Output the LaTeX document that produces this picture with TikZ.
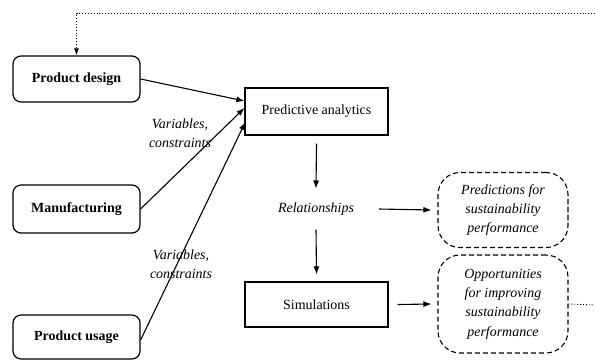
\documentclass[tikz,border=0pt]{standalone}
\usepackage{fontspec}
\setmainfont{Liberation Serif}
\usetikzlibrary{arrows.meta}
\begin{document}
\begin{tikzpicture}[x=1bp,y=-1bp,
  srcbox/.style={draw,line width=1.2bp,rounded corners=8bp,minimum width=127bp,font=\fontsize{14}{17}\selectfont\bfseries,inner sep=0pt},
  procbox/.style={draw,line width=1.2bp,minimum width=143bp,font=\fontsize{14}{17}\selectfont,inner sep=0pt},
  outbox/.style={draw,line width=1.1bp,dash pattern=on 5bp off 3bp,rounded corners=22bp,minimum width=130bp,align=center,font=\fontsize{14}{19.5}\selectfont\itshape,inner sep=0pt},
  lbl/.style={align=center,font=\fontsize{14}{19}\selectfont\itshape,inner sep=0pt},
  arr/.style={line width=1.1bp,-{Latex[length=8bp,width=6bp]}},
  fb/.style={dotted,line width=0.9bp}]
\useasboundingbox (0,0) rectangle (595,360);
\node[srcbox,minimum height=46bp] (PD) at (76.5,79) {Product design};
\node[srcbox,minimum height=48bp] (MF) at (76.5,209) {Manufacturing};
\node[srcbox,minimum height=44bp] (PU) at (76.5,337) {Product usage};
\node[procbox,minimum height=47bp] (PA) at (316.5,111.5) {Predictive analytics};
\node[lbl] (REL) at (316,209) {Relationships};
\node[procbox,minimum height=45bp] (SIM) at (316.5,304.5) {Simulations};
\node[outbox,minimum height=75bp] (PRED) at (503,210) {Predictions for\\sustainability\\performance};
\node[outbox,minimum height=98bp] (OPP) at (503,304) {Opportunities\\for improving\\sustainability\\performance};
\node[lbl] (L1) at (180,133) {Variables,\\constraints};
\node[lbl] (L2) at (181,264) {Variables,\\constraints};
\coordinate (FBtop) at (595,13);
\coordinate (FBbot) at (595,305);
\draw[arr] (PD.east) -- ([yshift=10.5bp]PA.west);
\draw[arr] (MF.east) -- ([yshift=3.5bp]PA.west);
\draw[arr] ([yshift=-3bp]PU.east) -- ([yshift=-10.5bp,xshift=1bp]PA.west);
\draw[arr] ([yshift=-8bp]PA.south) -- ([yshift=14bp]REL.north);
\draw[arr] ([yshift=-14bp]REL.south) -- ([yshift=7bp]SIM.north);
\draw[arr] ([xshift=25bp]REL.east) -- ([xshift=-6bp]PRED.west);
\draw[arr] ([xshift=9bp]SIM.east) -- ([xshift=-6bp]OPP.west);
\draw[fb] (OPP.east) -- (FBbot);
\draw[fb,-{Latex[length=7bp,width=5bp]}] (FBtop) -| (PD.north);
\end{tikzpicture}
\end{document}
